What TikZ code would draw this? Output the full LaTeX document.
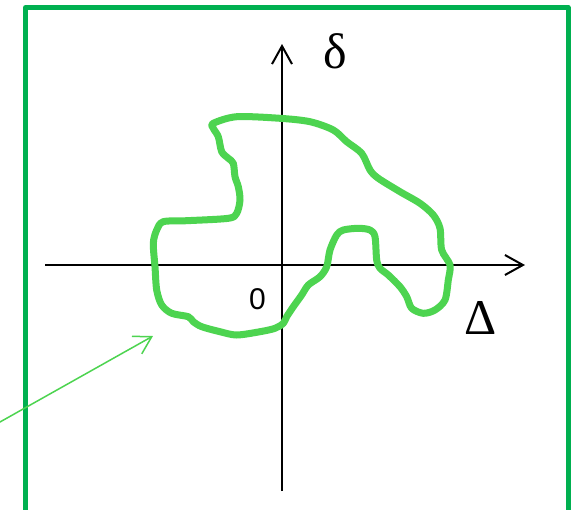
\documentclass[tikz,border=0pt]{standalone}
\usepackage{fontspec}
\usetikzlibrary{arrows.meta}
\newfontfamily\serifx{Liberation Serif}
\newfontfamily\sansx{Liberation Sans}
\definecolor{framegreen}{RGB}{0,176,80}
\definecolor{blobgreen}{RGB}{77,212,80}
\begin{document}
\begin{tikzpicture}[x=1pt,y=-1pt,
  frameline/.style={draw=framegreen,line width=5pt,line join=round},
  axisline/.style={draw=black,line width=2pt,-{Straight Barb[length=18pt,width=20pt,line width=2pt]}},
  blobline/.style={draw=blobgreen,line width=7pt,line join=round},
  pointer/.style={draw=blobgreen,line width=1.5pt,-{Straight Barb[length=17pt,width=20pt,line width=1.5pt]}},
  biglabel/.style={font=\serifx\fontsize{50}{50}\selectfont,inner sep=0pt},
  zerolabel/.style={font=\sansx\fontsize{30}{30}\selectfont,inner sep=0pt}]
\clip (0,0) rectangle (577,509);
\fill[white] (0,0) rectangle (577,509);
% frame (open at the bottom, cut by the picture edge)
\coordinate (fbl) at (25.5,520);
\coordinate (ftl) at (25.5,7.5);
\coordinate (ftr) at (568,7.5);
\coordinate (fbr) at (568,520);
\draw[frameline] (fbl) -- (ftl) -- (ftr) -- (fbr);
% axes
\coordinate (xstart) at (45,265);
\coordinate (xend) at (525,265);
\coordinate (ystart) at (282,491);
\coordinate (yend) at (282,44);
\draw[axisline] (xstart) -- (xend);
\draw[axisline] (ystart) -- (yend);
% blob
\draw[blobline] plot[smooth cycle,tension=0.5] coordinates {
 (213.3,123.3) (236.7,116.7) (280,118.3) (310,121.7) (333.3,130) (346.7,141.7)
 (361.7,153.3) (370,170) (378.3,178.3) (400,191.7) (420,203.3) (433.3,215)
 (440,228.3) (441.7,250) (450,265) (448.3,280) (445,300) (435,310)
 (423.3,313.3) (411.7,308.3) (406.7,296.7) (400,286.7) (388.3,275) (380,268.3)
 (376.7,260) (375,236.7) (370,230) (358.3,228.3) (343.3,230) (336.7,235)
 (330,250) (326.7,266.7) (320,276.7) (308.3,285) (301.7,295) (293.3,306.7)
 (286.7,316.7) (283.3,323.3) (275,328.3) (260,331.7) (236.7,335) (220,331.7)
 (201.7,326.7) (193.3,321.7) (188.3,316.7) (171.7,313.3) (161.7,305) (156.7,290)
 (155,266.7) (153.3,243.3) (156.7,230) (163.3,221.7) (186.7,220.7) (228.3,218.3)
 (236.7,213.3) (240,200) (238.3,186.7) (235,176.7) (233.3,163.3) (228.3,158.3)
 (221.7,151.7) (218.3,136.7) (213.3,128.3)};
% pointer arrow
\coordinate (pstart) at (-5,424.8);
\coordinate (pend) at (153,336);
\draw[pointer] (pstart) -- (pend);
% labels
\node[biglabel] (delta) at (335,51.5) {δ};
\node[biglabel] (Delta) at (481,318) {Δ};
\node[zerolabel] (zero) at (257.5,299) {0};
\end{tikzpicture}
\end{document}
